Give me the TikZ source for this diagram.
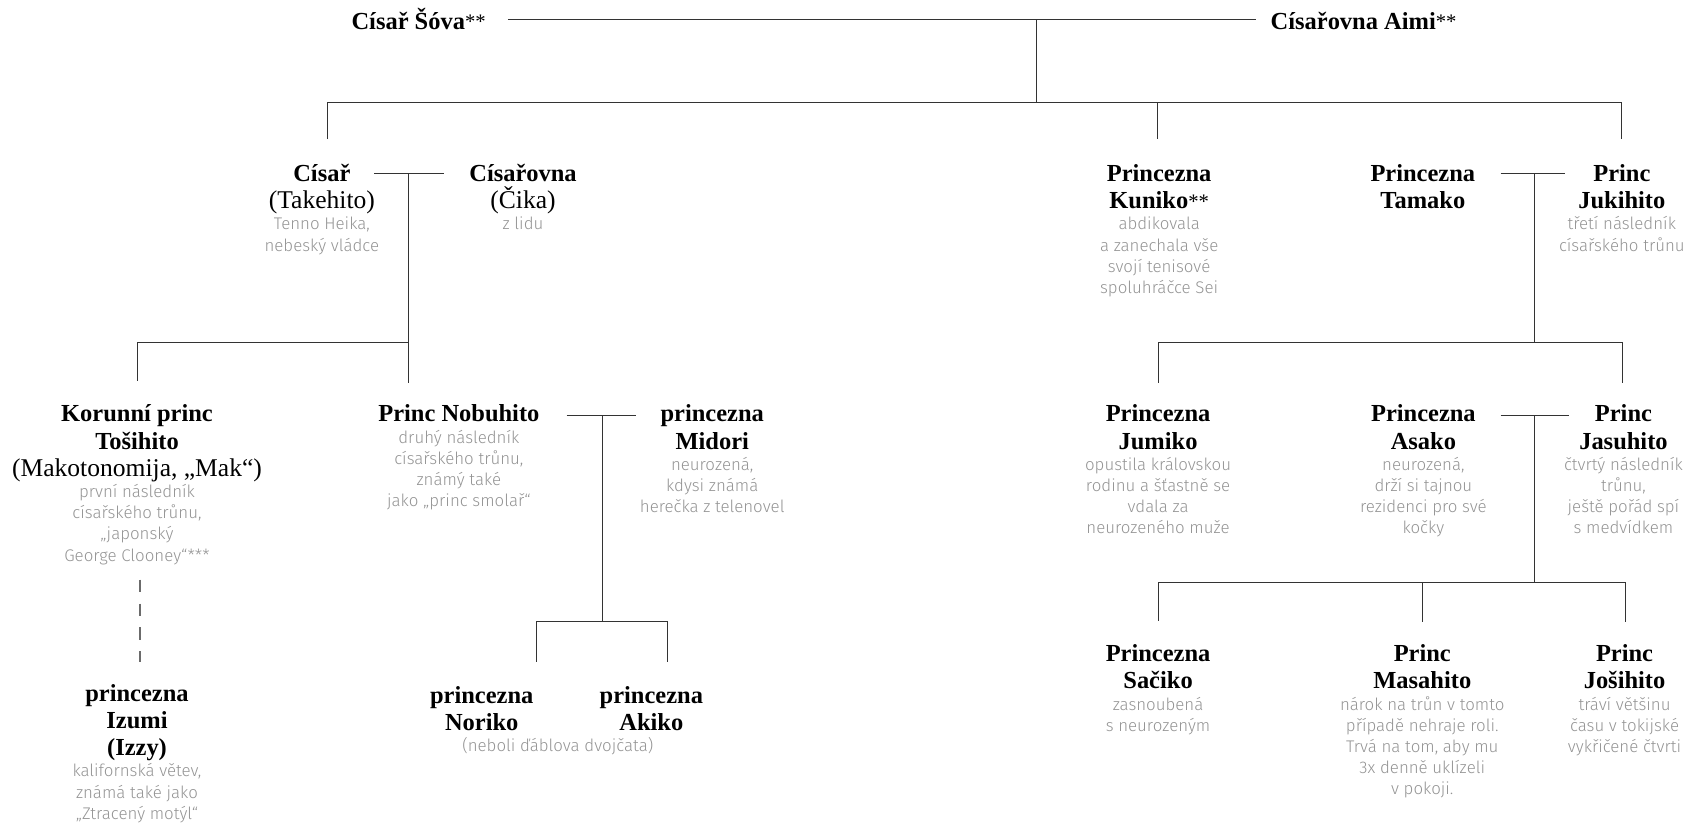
\documentclass[tikz,border=0pt]{standalone}
\usepackage{fontspec}
\setmainfont{Liberation Serif}
\IfFontExistsTF{Fira Sans Light}{\newfontfamily\thinfont{Fira Sans Light}}{\IfFontExistsTF{FiraSans-Light.otf}{\newfontfamily\thinfont{FiraSans-Light.otf}}{\newfontfamily\thinfont{Fira Sans}}}
\definecolor{descgray}{gray}{0.58}
\definecolor{linec}{gray}{0.2}
\definecolor{dashc}{gray}{0.42}
\newcommand\nmf{\fontsize{22.5}{25}\selectfont\bfseries}
\newcommand\rgf{\fontsize{23.5}{25}\selectfont\mdseries}
\newcommand\astr{{\fontsize{19}{20}\selectfont\mdseries\raisebox{0.5pt}{**}}}
\newcommand\dsf{\thinfont\mdseries\fontsize{15.5}{19.5}\selectfont}
\newcommand\personA[2]{\vtop{\hsize=300pt\centering\lineskiplimit=-100pt\lineskip=0pt\nmf\leavevmode #1\par\dsf\leavevmode\textcolor{descgray}{#2}\par}}
\newcommand\personB[1]{\vtop{\hsize=300pt\centering\lineskiplimit=-100pt\lineskip=0pt\nmf\leavevmode #1\par}}
\newcommand\personC[1]{\vtop{\hsize=300pt\centering\lineskiplimit=-100pt\lineskip=0pt\dsf\leavevmode\textcolor{descgray}{#1}\par}}
\begin{document}
\begin{tikzpicture}[x=1pt,y=-1pt,
  pn/.style={anchor=base,inner sep=0pt,outer sep=0pt},
  conn/.style={draw=linec,line width=0.9pt},
  dashconn/.style={draw=dashc,line width=1.1pt,dash pattern=on 11.5pt off 10.5pt}]
\useasboundingbox (0,0) rectangle (1568,758);

% generation 0
\node[pn] (sova) at (385,27) {\personB{Císař Šóva\astr}};
\node[pn] (aimi) at (1254,27) {\personB{Císařovna Aimi\astr}};

% generation 1
\node[pn] (takehito) at (296,167) {\personA{Císař\\{\rgf (Takehito)}}{Tenno Heika,\\nebeský vládce}};
\node[pn] (cika) at (481,167) {\personA{Císařovna\\{\rgf (Čika)}}{z lidu}};
\node[pn] (kuniko) at (1066,167) {\personA{Princezna\\Kuniko\astr}{abdikovala\\a zanechala vše\\svojí tenisové\\spoluhráčce Sei}};
\node[pn] (tamako) at (1308.5,167) {\personB{Princezna\\Tamako}};
\node[pn] (jukihito) at (1491.5,167) {\personA{Princ\\Jukihito}{třetí následník\\císařského trůnu}};

% generation 2
\node[pn] (tosihito) at (126,388) {\personA{Korunní princ\\Tošihito\\{\rgf (Makotonomija, „Mak“)}}{první následník\\císařského trůnu,\\„japonský\\George Clooney“***}};
\node[pn] (nobuhito) at (422,388) {\personA{Princ Nobuhito}{druhý následník\\císařského trůnu,\\známý také\\jako „princ smolař“}};
\node[pn] (midori) at (655,388) {\personA{princezna\\Midori}{neurozená,\\kdysi známá\\herečka z telenovel}};
\node[pn] (jumiko) at (1065,388) {\personA{Princezna\\Jumiko}{opustila královskou\\rodinu a šťastně se\\vdala za\\neurozeného muže}};
\node[pn] (asako) at (1309,388) {\personA{Princezna\\Asako}{neurozená,\\drží si tajnou\\rezidenci pro své\\kočky}};
\node[pn] (jasuhito) at (1493,388) {\personA{Princ\\Jasuhito}{čtvrtý následník\\trůnu,\\ještě pořád spí\\s medvídkem}};

% generation 3
\node[pn] (izumi) at (126,645) {\personA{princezna\\Izumi\\(Izzy)}{kalifornská větev,\\známá také jako\\„Ztracený motýl“}};
\node[pn] (noriko) at (443,646.8) {\personB{princezna\\Noriko}};
\node[pn] (akiko) at (599,646.8) {\personB{princezna\\Akiko}};
\node[pn] (twins) at (513,691.3) {\personC{(neboli ďáblova dvojčata)}};
\node[pn] (sacika) at (1065,608.5) {\personA{Princezna\\Sačiko}{zasnoubená\\s neurozeným}};
\node[pn] (masahito) at (1308,608.5) {\personA{Princ\\Masahito}{nárok na trůn v tomto\\případě nehraje roli.\\Trvá na tom, aby mu\\3x denně uklízeli\\v pokoji.}};
\node[pn] (josihito) at (1494,608.5) {\personA{Princ\\Jošihito}{tráví většinu\\času v tokijské\\vykřičené čtvrti}};

% connectors generation 0
\coordinate (t0L) at (467,17.8);
\coordinate (t0R) at (1155,17.8);
\coordinate (t0M) at (953,17.8);
\coordinate (g0M) at (953,94);
\coordinate (g0L) at (301,94);
\coordinate (g0R) at (1491,94);
\coordinate (g0K) at (1064.5,94);
\coordinate (d0L) at (301,128);
\coordinate (d0K) at (1064.5,128);
\coordinate (d0R) at (1491,128);
\draw[conn] (t0L) -- (t0R);
\draw[conn] (t0M) -- (g0M);
\draw[conn] (d0L) -- (g0L) -- (g0R) -- (d0R);
\draw[conn] (g0K) -- (d0K);

% connectors Takehito + Cika
\coordinate (m1L) at (344,159.4);
\coordinate (m1R) at (408,159.4);
\coordinate (m1M) at (376,159.4);
\coordinate (g1R) at (376,315);
\coordinate (g1L) at (126,315);
\coordinate (d1L) at (126,350);
\coordinate (d1R) at (376,352);
\draw[conn] (m1L) -- (m1R);
\draw[conn] (m1M) -- (d1R);
\draw[conn] (g1R) -- (g1L) -- (d1L);

% connectors Tamako + Jukihito
\coordinate (m2L) at (1380,159.4);
\coordinate (m2R) at (1439,159.4);
\coordinate (m2M) at (1411.5,159.4);
\coordinate (g2M) at (1411.5,315);
\coordinate (g2L) at (1065,315);
\coordinate (g2R) at (1492,315);
\coordinate (d2L) at (1065,352);
\coordinate (d2R) at (1492,352);
\draw[conn] (m2L) -- (m2R);
\draw[conn] (m2M) -- (g2M);
\draw[conn] (d2L) -- (g2L) -- (g2R) -- (d2R);

% connectors Nobuhito + Midori
\coordinate (m3L) at (521,382);
\coordinate (m3R) at (585,382);
\coordinate (m3M) at (554,382);
\coordinate (g3M) at (554,571.7);
\coordinate (g3L) at (493,571.7);
\coordinate (g3R) at (613.7,571.7);
\coordinate (d3L) at (493,608.5);
\coordinate (d3R) at (613.7,608.5);
\draw[conn] (m3L) -- (m3R);
\draw[conn] (m3M) -- (g3M);
\draw[conn] (d3L) -- (g3L) -- (g3R) -- (d3R);

% connectors Asako + Jasuhito
\coordinate (m4L) at (1380,382);
\coordinate (m4R) at (1443,382);
\coordinate (m4M) at (1411.5,382);
\coordinate (g4M) at (1411.5,535.8);
\coordinate (g4L) at (1065,535.8);
\coordinate (g4R) at (1495,535.8);
\coordinate (g4C) at (1308,535.8);
\coordinate (d4L) at (1065,571);
\coordinate (d4C) at (1308,572);
\coordinate (d4R) at (1495,572);
\draw[conn] (m4L) -- (m4R);
\draw[conn] (m4M) -- (g4M);
\draw[conn] (d4L) -- (g4L) -- (g4R) -- (d4R);
\draw[conn] (g4C) -- (d4C);

% dashed line Tosihito - Izumi
\coordinate (ds1) at (128.8,533);
\coordinate (ds2) at (128.8,608.5);
\draw[dashconn] (ds1) -- (ds2);
\end{tikzpicture}
\end{document}
